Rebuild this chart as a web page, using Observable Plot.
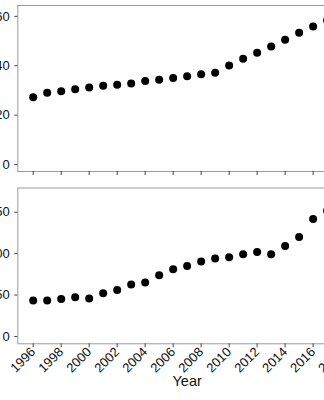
<!DOCTYPE html>
<html>
<head>
<meta charset="utf-8">
<script src="https://cdn.jsdelivr.net/npm/d3@7"></script>
<script src="https://cdn.jsdelivr.net/npm/@observablehq/plot@0.6"></script>
<style>
  html, body { margin: 0; padding: 0; background: #fff; }
  #chart { position: relative; width: 324px; height: 400px; overflow: hidden; }
  #chart svg { display: block; overflow: hidden; max-width: none !important; width: 362px; }
  #top { position: absolute; left: 0; top: 0; width: 362px; }
  #bottom { position: absolute; left: 0; top: 181px; width: 362px; }
</style>
</head>
<body>
<div id="chart"><div id="top"></div><div id="bottom"></div></div>
<script>
const years = [1996,1997,1998,1999,2000,2001,2002,2003,2004,2005,2006,2007,2008,2009,2010,2011,2012,2013,2014,2015,2016,2017];
const topValues = [27.2,29.1,29.7,30.5,31.2,31.9,32.3,32.8,33.8,34.3,35.0,35.7,36.5,37.2,40.1,42.8,45.3,47.8,50.5,53.4,55.9,58.4];
const bottomValues = [43.4,43.4,45.4,47.4,45.8,52.2,56.0,62.7,65.1,73.9,81.1,85.2,90.4,94.2,95.5,99.2,102.0,99.2,109.3,120.1,141.8,151.8];
const xTicks = [1996,1998,2000,2002,2004,2006,2008,2010,2012,2014,2016,2018];
const topYTicks = [0,20,40,60];
const bottomYTicks = [0,50,100,150];
const xLabel = "Year";

const topData = years.map((y, i) => ({year: y, value: topValues[i]}));
const bottomData = years.map((y, i) => ({year: y, value: bottomValues[i]}));

const font = "'Liberation Sans', Arial, sans-serif";
const xDomain = [1994.9, 2019.1];
const W = 362, ML = 17.3, MR = 6;

const topPlot = Plot.plot({
  width: W, height: 181,
  marginLeft: ML, marginRight: MR, marginTop: 5, marginBottom: 10,
  style: {fontFamily: font, fontSize: "13px", color: "#111", background: "#fff"},
  x: {domain: xDomain},
  y: {domain: [-2.85, 64.4]},
  marks: [
    Plot.frame({stroke: "#9a9a9a", strokeWidth: 1}),
    Plot.axisY({ticks: topYTicks, tickSize: 3, tickPadding: 5, label: null, stroke: "#444"}),
    Plot.axisX({ticks: xTicks, tickSize: 4, tickFormat: () => "", label: null, stroke: "#444"}),
    Plot.dot(topData, {x: "year", y: "value", r: 4, fill: "#000", stroke: null})
  ]
});

const bottomPlot = Plot.plot({
  width: W, height: 219,
  marginLeft: ML, marginRight: MR, marginTop: 6.5, marginBottom: 56.7,
  style: {fontFamily: font, fontSize: "13px", color: "#111", background: "#fff"},
  x: {domain: xDomain},
  y: {domain: [-8.8, 179.2]},
  marks: [
    Plot.frame({stroke: "#9a9a9a", strokeWidth: 1}),
    Plot.axisY({ticks: bottomYTicks, tickSize: 3, tickPadding: 5, label: null, stroke: "#444"}),
    Plot.axisX({ticks: xTicks, tickSize: 4, tickPadding: 2, tickRotate: -45, tickFormat: d => String(d), label: null, stroke: "#444"}),
    Plot.dot(bottomData, {x: "year", y: "value", r: 4, fill: "#000", stroke: null}),
    Plot.text([xLabel], {frameAnchor: "bottom", text: d => d, dy: 42, fontSize: 14.5, fill: "#111"})
  ]
});

document.getElementById("top").appendChild(topPlot);
document.getElementById("bottom").appendChild(bottomPlot);
</script>
</body>
</html>
